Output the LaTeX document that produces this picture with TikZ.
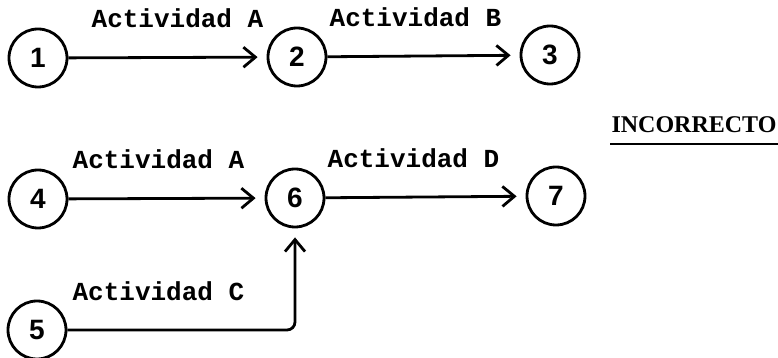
\documentclass[tikz,border=0pt]{standalone}
\usepackage{fontspec}
\setmainfont{Liberation Serif}
\setsansfont{Liberation Sans}
\setmonofont{Liberation Mono}
\usepackage{tikz}
\usetikzlibrary{arrows.meta}

\begin{document}
\begin{tikzpicture}[x=0.5pt, y=-0.5pt, line width=1.4pt,
        nodo/.style={circle, draw, minimum size=29pt, inner sep=0pt, font=\sffamily\bfseries\fontsize{14}{16}\selectfont},
        flecha/.style={-{Straight Barb[length=6pt, width=10pt]}, shorten >=4.5pt},
        etiq/.style={above=14pt, inner sep=0pt, font=\ttfamily\bfseries\fontsize{13}{15}\selectfont}]
    \useasboundingbox (0,0) rectangle (778,358);
    % Nodes of the two networks
    \foreach \n/\x/\y in {1/38/58, 2/297/57, 3/550/55, 4/38/199, 6/295/198, 7/556/196, 5/37/330} {
        \node[nodo] (n\n) at (\x,\y) {\n};
    }

    % Activities
    \draw[flecha] (n1) -- node[etiq, xshift=5pt]{Actividad A} (n2); % 1 -> 2
    \draw[flecha] (n2) -- node[etiq, xshift=-4pt]{Actividad B} (n3); % 2 -> 3
    \draw[flecha] (n4) -- node[etiq, xshift=-4pt]{Actividad A} (n6); % 4 -> 6
    \draw[flecha] (n6) -- node[etiq, xshift=-6pt]{Actividad D} (n7); % 6 -> 7
    \draw[flecha, rounded corners=4pt] (n5.east) -| node[etiq, pos=0.2]{Actividad C} (n6); % 5 -> 6

    % Title
    \node[font=\rmfamily\bfseries\fontsize{12}{14}\selectfont, inner sep=0pt] (titulo) at (694,125) {INCORRECTO};
    \draw[line width=1pt] ([yshift=-5pt]titulo.south west) -- ([yshift=-5pt]titulo.south east);
\end{tikzpicture}
\end{document}
